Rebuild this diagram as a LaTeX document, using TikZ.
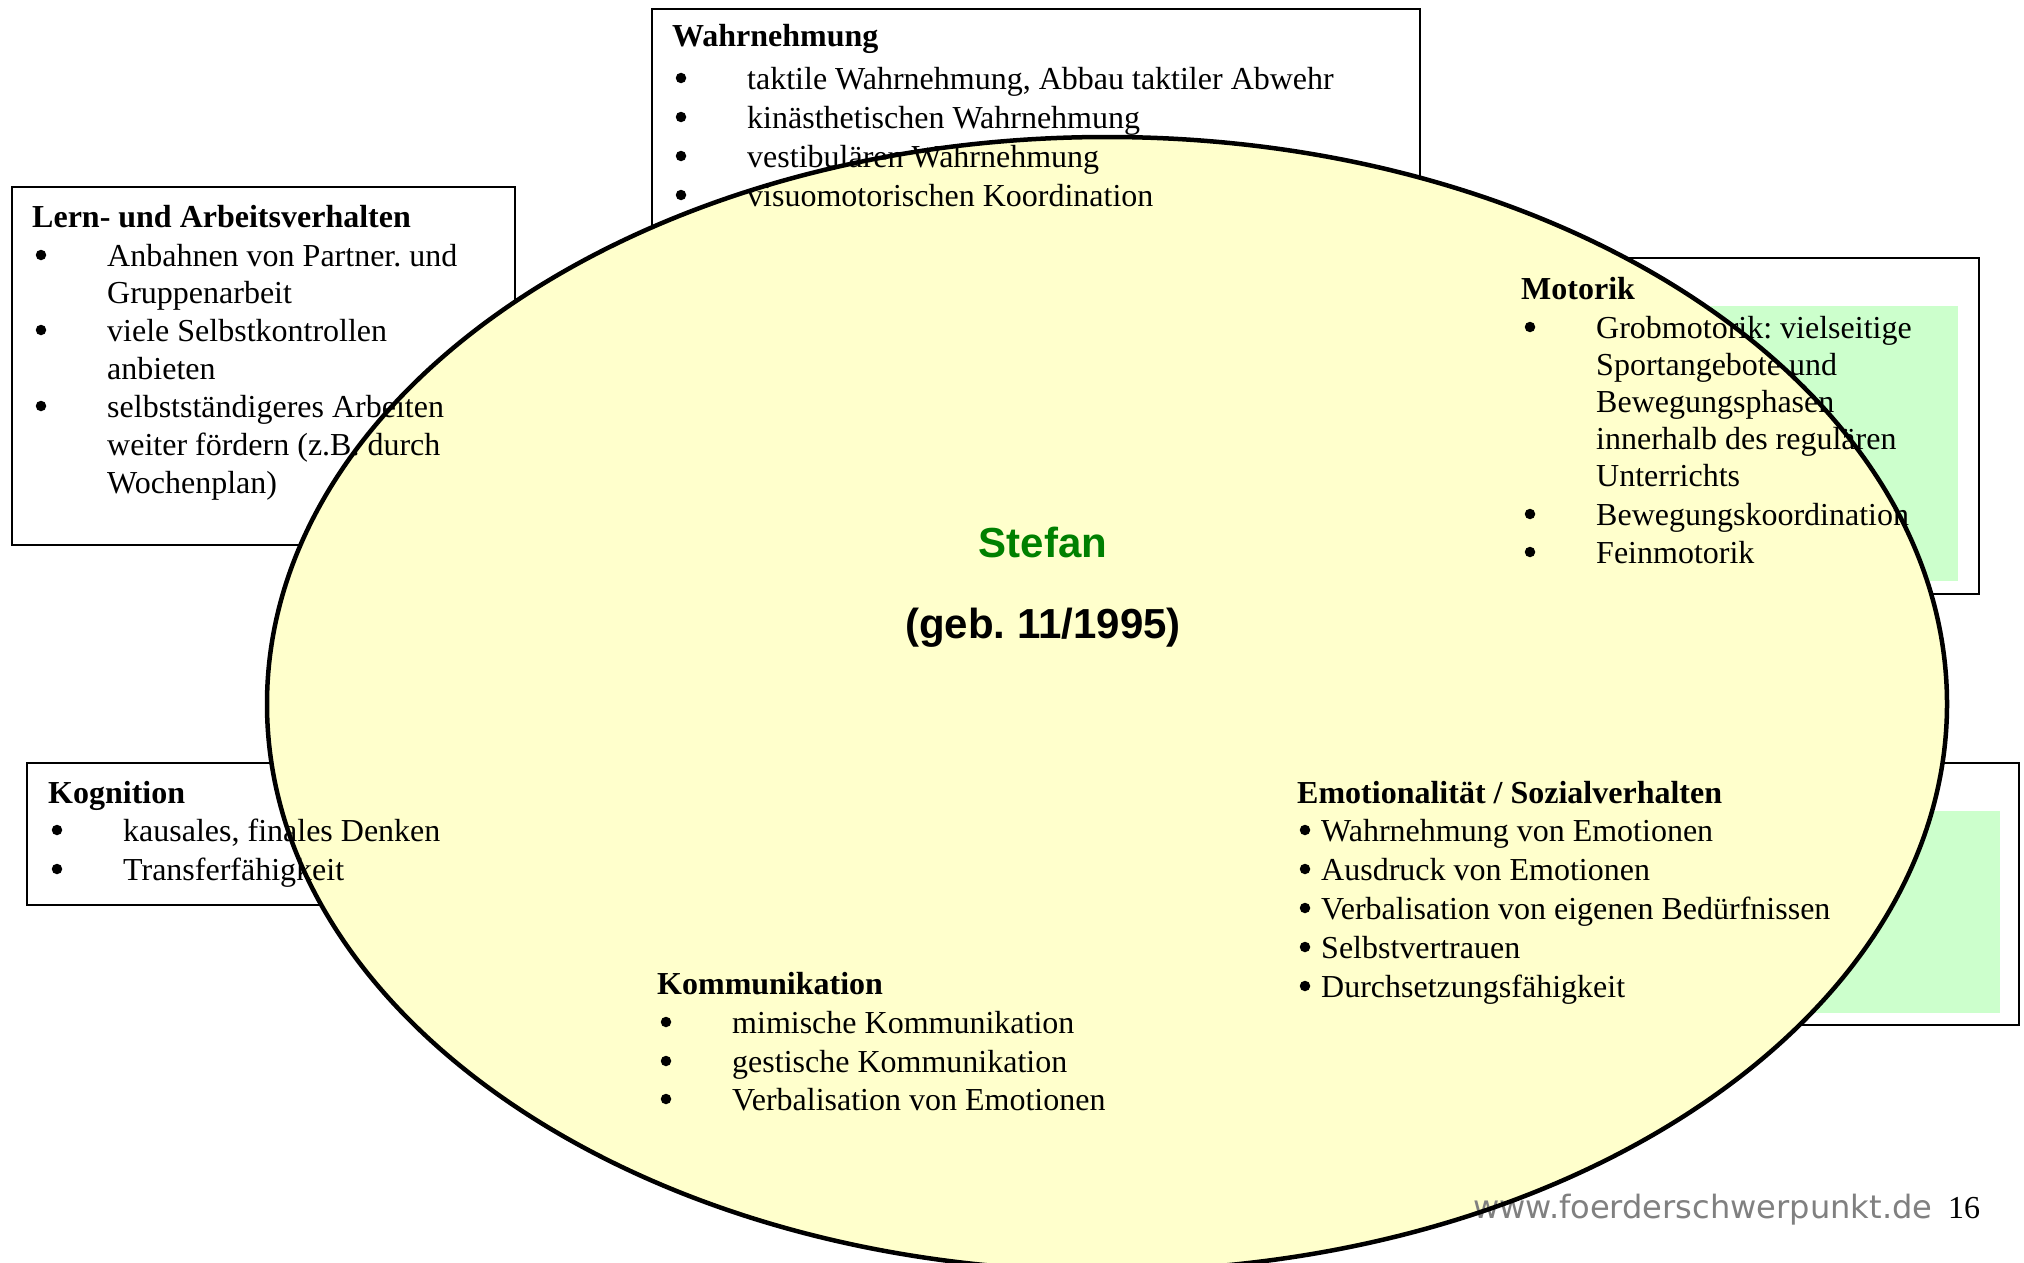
\documentclass[tikz,border=0pt]{standalone}
\usepackage{fontspec}
\setmainfont{Liberation Serif}
\newfontfamily\arialfont{Liberation Sans}
\newfontfamily\webfont{DejaVu Sans}
\frenchspacing
\definecolor{ellfill}{HTML}{FFFFCC}
\definecolor{boxgreen}{HTML}{CCFFCC}
\definecolor{namegreen}{HTML}{008000}
\definecolor{webgray}{HTML}{808080}
\newcommand\bitem[4]{%
  \node[bul] (#1b) at (#2+8,#3-11) {};
  \node[txt] (#1) at (#2+74,#3) {#4};}
\newcommand\contline[4]{%
  \node[txt] (#1) at (#2+74,#3) {#4};}
\newcommand\eitem[3]{%
  \node[bul] (#1b) at (1305,#2-11) {};
  \node[txt] (#1) at (1321,#2) {#3};}
\begin{document}
\begin{tikzpicture}[x=1pt,y=-1pt,
  txt/.style={anchor=base west, inner sep=0pt, font=\fontsize{32}{38}\selectfont},
  hd/.style={anchor=base west, inner sep=0pt, font=\fontsize{32}{38}\selectfont\bfseries},
  bul/.style={circle, fill=black, draw=none, inner sep=0pt, minimum size=10.5pt},
  frame/.style={draw=black, line width=2.5pt},
  greenfill/.style={fill=boxgreen, draw=none},
  ellstyle/.style={line width=4.5pt}]
\useasboundingbox (0,0) rectangle (2024,1263);
\fill[white] (0,0) rectangle (2024,1263);
% boxes
\fill[greenfill] (1600,306) rectangle (1958,581);
\fill[greenfill] (1350,811) rectangle (2000,1013);
\draw[frame] (652,9) rectangle (1420,250);
\draw[frame] (12,187) rectangle (515,545);
\draw[frame] (1515,258) rectangle (1979,594);
\draw[frame] (27,763) rectangle (420,905);
\draw[frame] (1290,763) rectangle (2019,1025);
% ellipse
\fill[ellfill] (1107,704) ellipse [x radius=840, y radius=567];
% Wahrnehmung
\node[hd] (wh) at (672,47) {Wahrnehmung};
\bitem{w1}{673}{89}{taktile Wahrnehmung, Abbau taktiler Abwehr}
\bitem{w2}{673}{128}{kinästhetischen Wahrnehmung}
\bitem{w3}{673}{167}{vestibulären Wahrnehmung}
\bitem{w4}{673}{206}{visuomotorischen Koordination}
% Lern
\node[hd] (lh) at (32,227) {Lern- und Arbeitsverhalten};
\bitem{l1}{33}{266}{Anbahnen von Partner. und}
\contline{l1c}{33}{303}{Gruppenarbeit}
\bitem{l2}{33}{341}{viele Selbstkontrollen}
\contline{l2c}{33}{379}{anbieten}
\bitem{l3}{33}{417}{selbstständigeres Arbeiten}
\contline{l3c}{33}{455}{weiter fördern (z.B. durch}
\contline{l3d}{33}{493}{Wochenplan)}
% Motorik
\node[hd] (mh) at (1521,299) {Motorik};
\bitem{m1}{1522}{338}{Grobmotorik: vielseitige}
\contline{m1c}{1522}{375}{Sportangebote und}
\contline{m1d}{1522}{412}{Bewegungsphasen}
\contline{m1e}{1522}{449}{innerhalb des regulären}
\contline{m1f}{1522}{486}{Unterrichts}
\bitem{m2}{1522}{525}{Bewegungskoordination}
\bitem{m3}{1522}{563}{Feinmotorik}
% Kognition
\node[hd] (kh) at (48,803) {Kognition};
\bitem{k1}{49}{841}{kausales, finales Denken}
\bitem{k2}{49}{880}{Transferfähigkeit}
% Emotionalitaet
\node[hd] (eh) at (1297,803) {Emotionalität / Sozialverhalten};
\eitem{e1}{841}{Wahrnehmung von Emotionen}
\eitem{e2}{880}{Ausdruck von Emotionen}
\eitem{e3}{919}{Verbalisation von eigenen Bedürfnissen}
\eitem{e4}{958}{Selbstvertrauen}
\eitem{e5}{997}{Durchsetzungsfähigkeit}
% Kommunikation
\node[hd] (ch) at (657,994) {Kommunikation};
\bitem{c1}{658}{1033}{mimische Kommunikation}
\bitem{c2}{658}{1072}{gestische Kommunikation}
\bitem{c3}{658}{1110}{Verbalisation von Emotionen}
% center
\node[anchor=base, inner sep=0pt, font=\arialfont\bfseries\fontsize{42}{50}\selectfont, text=namegreen] (name) at (1043,557) {Stefan};
\node[anchor=base, inner sep=0pt, font=\arialfont\bfseries\fontsize{42}{50}\selectfont] (birth) at (1043,638) {(geb. 11/1995)};
% footer
\node[anchor=base west, inner sep=0pt, font=\webfont\fontsize{32.1}{36}\selectfont, text=webgray] (web) at (1473,1218) {www.foerderschwerpunkt.de};
\node[txt] (page) at (1948,1218) {16};
% ellipse outline on top
\draw[ellstyle] (1107,704) ellipse [x radius=840, y radius=567];
\end{tikzpicture}
\end{document}
